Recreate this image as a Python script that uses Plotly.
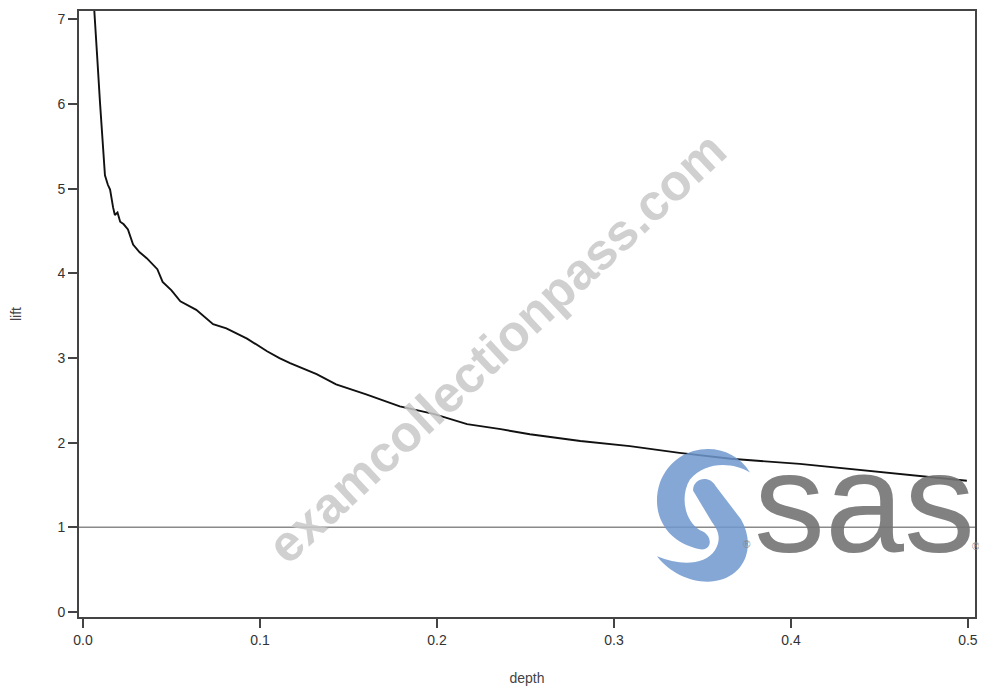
import plotly.graph_objects as go

# ---- data ----
depth = [0.0058, 0.0064, 0.0079, 0.0096, 0.0107, 0.0113, 0.0124, 0.0140, 0.0153, 0.0170,
         0.0180, 0.0195, 0.0210, 0.0230, 0.0254, 0.0283, 0.0320, 0.0360, 0.0420, 0.0450,
         0.0500, 0.0550, 0.0640, 0.0735, 0.0810, 0.0927, 0.1040, 0.1110, 0.1170, 0.1320,
         0.1430, 0.1600, 0.1790, 0.1980, 0.2170, 0.2360, 0.2525, 0.2810, 0.3090, 0.3370,
         0.3660, 0.4050, 0.4430, 0.4800, 0.4994]
lift = [7.30, 7.05, 6.60, 6.02, 5.63, 5.43, 5.16, 5.05, 4.99, 4.78,
        4.69, 4.72, 4.61, 4.58, 4.52, 4.34, 4.25, 4.18, 4.05, 3.90,
        3.80, 3.67, 3.57, 3.40, 3.35, 3.23, 3.08, 3.00, 2.94, 2.81,
        2.69, 2.57, 2.43, 2.34, 2.22, 2.16, 2.10, 2.02, 1.96, 1.88,
        1.81, 1.75, 1.67, 1.59, 1.55]
baseline = 1.0

x_ticks = [0.0, 0.1, 0.2, 0.3, 0.4, 0.5]
x_tick_labels = ["0.0", "0.1", "0.2", "0.3", "0.4", "0.5"]
y_ticks = [0, 1, 2, 3, 4, 5, 6, 7]
y_tick_labels = ["0", "1", "2", "3", "4", "5", "6", "7"]

FONT = "Liberation Sans, Arial, sans-serif"
OFF = 8                     # page body margin
W, H = 987 - OFF, 696 - OFF
PLOT_L, PLOT_R, PLOT_T, PLOT_B = 79, 975, 9, 617   # plot frame in page pixels
L, R, T, B = PLOT_L - OFF, W - (PLOT_R - OFF), PLOT_T - OFF, H - (PLOT_B - OFF)
PW, PH = PLOT_R - PLOT_L, PLOT_B - PLOT_T


def px(xp):
    return (xp - PLOT_L) / PW


def py(yp):
    return (PLOT_B - yp) / PH


def path(points_cmds):
    out = []
    for cmd in points_cmds:
        if isinstance(cmd, str):
            out.append(cmd)
        else:
            out.append(f"{px(cmd[0]):.4f},{py(cmd[1]):.4f}")
    return " ".join(out)


fig = go.Figure()
fig.add_trace(go.Scatter(x=depth, y=lift, mode="lines",
                         line=dict(color="#111111", width=1.9), showlegend=False,
                         cliponaxis=True))
fig.add_hline(y=baseline, line=dict(color="#8a8a8a", width=1.5), layer="above")

# SAS logo swirl (decorative)
blue = "rgba(110,152,206,0.85)"
pathA = path(["M", (750, 472), "C", (730, 438), (676, 440), (660, 482),
              "C", (650, 512), (665, 542), (700, 549),
              "C", (713, 551), (713, 534), (700, 530),
              "C", (684, 520), (680, 495), (690, 479),
              "C", (705, 461), (732, 461), (750, 472), "Z"])
pathB = path(["M", (693, 490), "C", (693, 477), (710, 474), (716, 486),
              "L", (741, 519),
              "C", (756, 545), (746, 576), (715, 581),
              "C", (694, 584), (671, 574), (657, 556),
              "C", (680, 566), (705, 565), (715, 550),
              "C", (722, 538), (718, 530), (712, 522),
              "L", (693, 490), "Z"])
for p in (pathA, pathB):
    fig.add_shape(type="path", path=p, xref="paper", yref="paper",
                  fillcolor=blue, line=dict(width=0), layer="above")

annotations = [
    dict(text="<b>examcollectionpass.com</b>", x=px(497), y=py(347), xref="paper", yref="paper",
         showarrow=False, textangle=-43, font=dict(family=FONT, size=51, color="rgba(200,200,200,0.85)"),
         xanchor="center", yanchor="middle"),
    dict(text="sas", x=px(864), y=py(502), xref="paper", yref="paper", showarrow=False,
         font=dict(family=FONT, size=142, color="rgba(115,115,115,0.9)"),
         xanchor="center", yanchor="middle", borderpad=0),
    dict(text="®", x=px(752), y=py(551), xref="paper", yref="paper", showarrow=False,
         font=dict(family=FONT, size=10, color="#888888"), borderpad=0),
    dict(text="®", x=px(981), y=py(553), xref="paper", yref="paper", showarrow=False,
         font=dict(family=FONT, size=10, color="#888888"), borderpad=0),
]

fig.update_layout(
    width=W, height=H,
    margin=dict(l=L, r=R, t=T, b=B, pad=0),
    paper_bgcolor="white", plot_bgcolor="white",
    font=dict(family=FONT, size=14, color="#333333"),
    annotations=annotations,
    xaxis=dict(range=[-0.00226, 0.504], tickvals=x_ticks, ticktext=x_tick_labels,
               showgrid=False, zeroline=False, showline=True, mirror=True,
               linecolor="#444444", linewidth=1.8, ticks="outside", ticklen=9,
               tickcolor="#444444", tickwidth=1.5,
               title=dict(text="depth", standoff=26, font=dict(size=14, color="#444444"))),
    yaxis=dict(range=[-0.059, 7.1], tickvals=y_ticks, ticktext=y_tick_labels,
               showgrid=False, zeroline=False, showline=True, mirror=True,
               linecolor="#444444", linewidth=1.8, ticks="outside", ticklen=9,
               tickcolor="#444444", tickwidth=1.5,
               title=dict(text="lift", standoff=34, font=dict(size=14, color="#444444"))),
)

fig.write_html("out.html")
